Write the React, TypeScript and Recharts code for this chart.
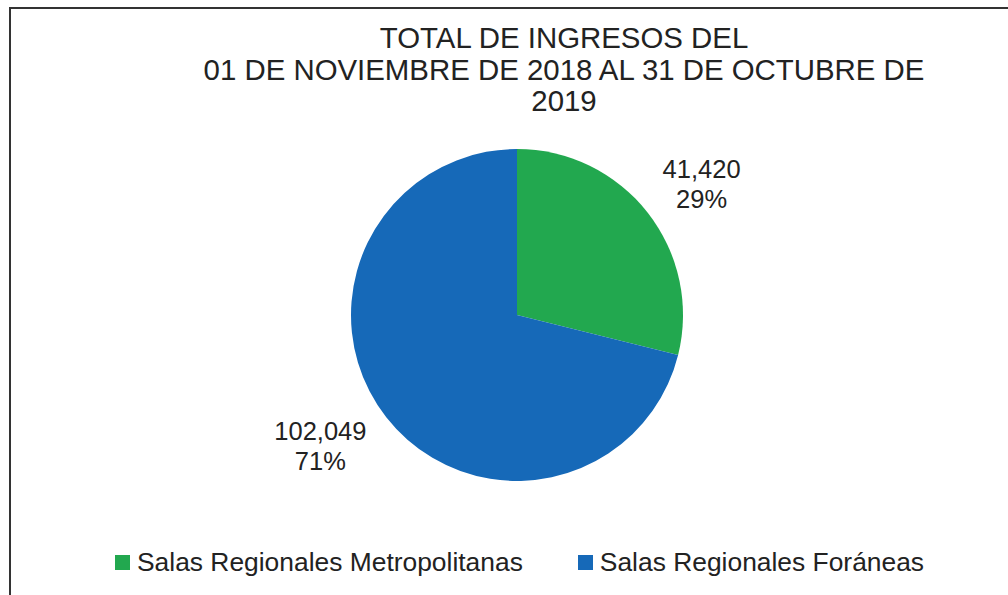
import { PieChart, Pie, Cell, Legend } from "recharts"

const salas = ["Salas Regionales Metropolitanas", "Salas Regionales Foráneas"]
const ingresos = [41420, 102049]
const colores = ["#22a84f", "#1669b8"]
const titulo = ["TOTAL DE INGRESOS DEL", "01 DE NOVIEMBRE DE 2018 AL 31 DE OCTUBRE DE", "2019"]

const data = salas.map((name, i) => ({ name, value: ingresos[i] }))
const RAD = Math.PI / 180
const font = "'Liberation Sans', Arial, sans-serif"

function renderLabel(props: any) {
    const { cx, cy, midAngle, outerRadius, value, percent } = props
    // labels sit a bit left of a plain ellipse around the pie
    const x = cx - 6 + (outerRadius + 76) * Math.cos(-midAngle * RAD)
    const y = cy + (outerRadius + 47) * Math.sin(-midAngle * RAD)
    return (
        <text x={x} y={y} textAnchor="middle" fill="#222" fontSize={25.5} fontFamily={font}>
            <tspan x={x} y={y - 15} dominantBaseline="central">{value.toLocaleString("en-US")}</tspan>
            <tspan x={x} y={y + 15} dominantBaseline="central">{Math.round(percent * 100)}%</tspan>
        </text>
    )
}

function LegendContent() {
    return (
        <div style={{ display: "flex", alignItems: "center", fontFamily: font, fontSize: 26.4, color: "#222" }}>
            {salas.map((s, i) => (
                <div key={s} style={{ display: "flex", alignItems: "center", marginRight: i === 0 ? 55 : 0 }}>
                    <span style={{ width: 15, height: 15, background: colores[i], marginRight: 7, display: "inline-block" }} />
                    <span>{s}</span>
                </div>
            ))}
        </div>
    )
}

export default function App() {
    return (
        <div style={{ position: "absolute", left: 0, top: 0, width: 1008, height: 595, overflow: "hidden", background: "#fff" }}>
            <div style={{ position: "absolute", left: 9, top: 7, width: 1020, height: 620, border: "2px solid #333" }} />
            <div style={{ position: "absolute", left: 0, top: 22, width: 1128, textAlign: "center", fontFamily: font, fontSize: 29.4, lineHeight: "31.5px", color: "#222" }}>
                {titulo.map((t) => <div key={t}>{t}</div>)}
            </div>
            <div style={{ position: "absolute", left: 0, top: 0 }}>
                <PieChart width={1008} height={595} margin={{ top: 0, right: 0, bottom: 0, left: 0 }}>
                    <Pie
                        data={data}
                        dataKey="value"
                        nameKey="name"
                        cx={517}
                        cy={315}
                        outerRadius={166}
                        startAngle={90}
                        endAngle={-270}
                        stroke="none"
                        label={renderLabel}
                        labelLine={false}
                        isAnimationActive={false}
                    >
                        {data.map((d, i) => <Cell key={d.name} fill={colores[i]} />)}
                    </Pie>
                    <Legend
                        content={<LegendContent />}
                        wrapperStyle={{ position: "absolute", left: 115, top: 547, width: 880 }}
                    />
                </PieChart>
            </div>
        </div>
    )
}
